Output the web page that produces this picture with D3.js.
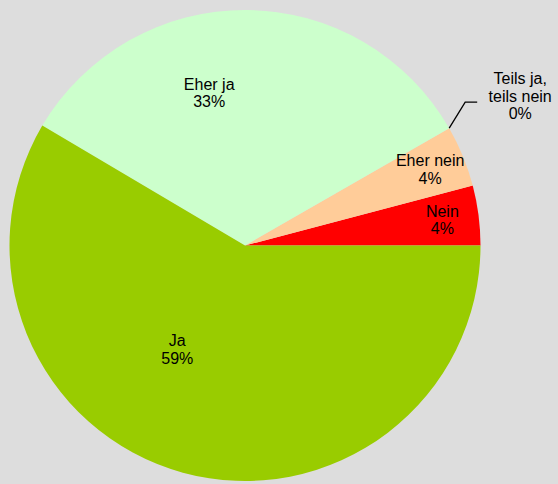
<!DOCTYPE html>
<html>
<head>
<meta charset="utf-8">
<script src="https://cdn.jsdelivr.net/npm/d3@7/dist/d3.min.js"></script>
<style>
  html, body { margin: 0; padding: 0; background: #dddddd; }
  svg { display: block; }
</style>
</head>
<body>
<svg id="chart" width="558" height="484"></svg>
<script>
// DATA (counter-clockwise from 3 o'clock)
const categories = ["Nein", "Eher nein", "Teils ja, teils nein", "Eher ja", "Ja"];
const shares = [4.1, 4.2, 0, 33.2, 58.5];
const percentLabels = ["4%", "4%", "0%", "33%", "59%"];
const colors = ["#ff0000", "#ffcc99", "#ffff99", "#ccffcc", "#99cc00"];

// CANVAS SETUP
const svg = d3.select("#chart");
const width = +svg.attr("width"),
  height = +svg.attr("height");

svg.append("rect").attr("width", width).attr("height", height).attr("fill", "#dddddd");

const cx = 245,
  cy = 245.5,
  radius = 235.5;

const g = svg.append("g").attr("transform", `translate(${cx},${cy})`);

const data = categories.map((c, i) => ({
  name: c,
  value: shares[i],
  pct: percentLabels[i],
  color: colors[i],
}));

// d3 angles: 0 at 12 o'clock, clockwise; go counter-clockwise from 3 o'clock
const pie = d3
  .pie()
  .sort(null)
  .value((d) => d.value)
  .startAngle(Math.PI / 2)
  .endAngle(Math.PI / 2 - 2 * Math.PI);

const arcs = pie(data);
const arc = d3.arc().innerRadius(0).outerRadius(radius);

g.selectAll("path.slice")
  .data(arcs.filter((d) => d.value > 0))
  .join("path")
  .attr("class", "slice")
  .attr("d", arc)
  .attr("fill", (d) => d.data.color);

// LABELS
// polar helper in d3 angle convention
const polar = (a, r) => [r * Math.sin(a), -r * Math.cos(a)];
const mid = (d) => (d.startAngle + d.endAngle) / 2;

// label placement tweaks (Excel-like "best fit")
const labelLayout = {
  "Nein": { r: 0.845, da: 0 },
  "Eher nein": { r: 0.85, da: 0 },
  "Eher ja": { r: 0.665, da: -0.237 },
  "Ja": { r: 0.527, da: 0.31 },
};

const lineH = 17.5;

arcs.forEach((d) => {
  let lines, x, y;
  if (labelLayout[d.data.name]) {
    const L = labelLayout[d.data.name];
    [x, y] = polar(mid(d) + L.da, radius * L.r);
    lines = [d.data.name, d.data.pct];
  } else {
    // outside label with leader line
    const p0 = polar(mid(d), radius);
    const p1 = [p0[0] + 16, p0[1] - 26];
    const p2 = [p1[0] + 12, p1[1]];
    g.append("polyline")
      .attr("points", [p0, p1, p2].map((p) => p.join(",")).join(" "))
      .attr("fill", "none")
      .attr("stroke", "#000")
      .attr("stroke-width", 1.3);
    x = p2[0] + 43;
    y = p2[1] - 6;
    lines = ["Teils ja,", "teils nein", d.data.pct];
  }
  const t = g
    .append("text")
    .attr("text-anchor", "middle")
    .attr("font-family", "Liberation Sans, Arial, sans-serif")
    .attr("font-size", 16)
    .attr("fill", "#000");
  const n = lines.length;
  lines.forEach((s, i) => {
    t.append("tspan")
      .attr("x", x)
      .attr("y", y + (i - (n - 1) / 2) * lineH)
      .attr("dy", "0.35em")
      .text(s);
  });
});
</script>
</body>
</html>
